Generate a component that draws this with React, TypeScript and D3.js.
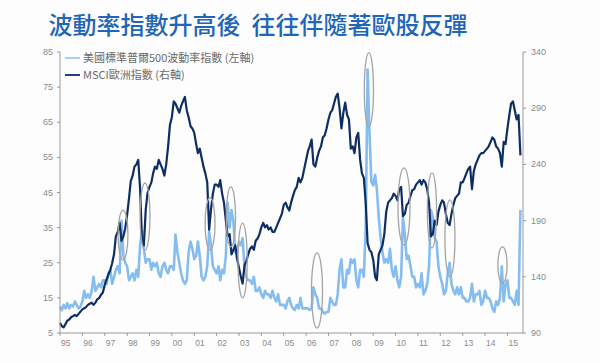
import React from 'react';
import * as d3 from 'd3';

const TITLE = '波動率指數升高後  往往伴隨著歐股反彈';
const LEGEND = ['美國標準普爾500波動率指數 (左軸)', 'MSCI歐洲指數 (右軸)'];

// monthly, Jan 1995 .. Aug 2015
const vix = [
  12.5, 11.5, 13, 12, 13.5, 12, 13, 12.5, 14, 13, 12, 12.5,
  14, 17, 15, 16, 15, 17, 21, 17, 18, 19, 18, 20,
  20, 19, 22, 23, 19, 21, 23, 24, 22, 37, 27, 25,
  24, 20, 21, 22, 20, 23, 21, 30, 34, 29, 25, 26,
  26, 23, 25, 24, 25, 22, 21, 24, 25, 23, 22, 24,
  24, 23, 33, 28, 25, 22, 20, 19, 20, 28, 31, 29,
  26, 27, 31, 27, 21, 20, 21, 24, 34, 30, 24, 23,
  22, 24, 20, 23, 22, 27, 42, 35, 40, 37, 28, 28,
  31, 30, 32, 24, 21, 20, 20, 19, 21, 17, 17, 18,
  16, 15, 17, 16, 16, 15, 17, 15, 14, 16, 13, 13,
  13, 12, 14, 15, 13, 12, 11.5, 13, 12, 15, 12, 12,
  12, 12, 11.5, 12, 18, 16, 15, 12, 12, 11, 10.5, 11,
  11, 15, 14, 13, 13, 16, 23, 26, 18, 18, 23, 22,
  26, 25, 26, 20, 18, 23, 23, 21, 36, 80, 62, 48,
  47, 50, 46, 38, 32, 28, 25, 26, 25, 29, 23, 21,
  24, 20, 18, 21, 38, 33, 26, 27, 24, 21, 21, 18,
  19, 18, 22, 16, 17, 19, 24, 40, 38, 32, 31, 24,
  21, 19, 16, 17, 22, 25, 19, 17, 16, 18, 16, 18,
  15, 15, 14, 14, 15, 19, 14, 16, 16, 17, 13, 14,
  17, 15, 15, 14, 12, 11, 14, 13, 15, 24, 14, 19,
  20, 15, 15, 14, 13, 17, 13, 40,
];

const msci = [
  99, 96, 95, 98, 101, 102, 104, 105, 106, 105, 107, 109,
  111, 112, 113, 115, 116, 117, 115, 117, 120, 121, 124, 126,
  133, 138, 142, 146, 152, 160, 176, 180, 188, 172, 176, 183,
  195, 210, 225, 230, 238, 240, 244, 218, 172, 168, 200, 215,
  220, 224, 232, 238, 236, 244, 240, 236, 230, 240, 256, 275,
  282, 296, 294, 290, 286, 292, 296, 300, 288, 282, 274, 272,
  268, 258, 250, 254, 246, 238, 232, 224, 182, 200, 214, 222,
  222, 220, 226, 214, 206, 190, 176, 178, 160, 164, 168, 156,
  148, 140, 134, 150, 154, 160, 165, 167, 164, 172, 174, 178,
  184, 188, 184, 186, 182, 184, 180, 180, 184, 188, 192, 196,
  204, 206, 202, 199, 206, 212, 217, 220, 228, 224, 228, 236,
  244, 252, 256, 262, 240, 238, 246, 252, 256, 264, 266, 272,
  280, 286, 288, 294, 300, 303, 290, 272, 286, 295, 284, 280,
  254, 256, 250, 264, 268, 244, 232, 228, 205, 170, 164, 162,
  155, 140, 137, 160, 164, 168, 178, 198, 206, 208, 210, 214,
  212, 208, 218, 220, 194, 196, 204, 206, 212, 217, 218, 222,
  224, 226, 222, 226, 224, 218, 206, 176, 178, 190, 186, 198,
  204, 208, 206, 196, 188, 186, 196, 204, 210, 212, 214, 224,
  224, 228, 232, 236, 238, 218, 234, 240, 244, 248, 250, 250,
  252, 254, 256, 260, 264, 262, 256, 254, 250, 238, 260, 258,
  272, 284, 294, 296, 288, 280, 284, 248,
];

const leftTicks = [5, 15, 25, 35, 45, 55, 65, 75, 85];
const rightTicks = [90, 140, 190, 240, 290, 340];

// grey ellipses: centre date, range on left axis, half width in days
const circles = [
  { date: '1997-10-26', lo: 25.8, hi: 40, days: 80 },
  { date: '1998-10-20', lo: 28.6, hi: 47.7, days: 80 },
  { date: '2001-09-16', lo: 28.6, hi: 43.5, days: 80 },
  { date: '2002-08-22', lo: 29.5, hi: 46.6, days: 75 },
  { date: '2003-03-01', lo: 15, hi: 36.3, days: 75 },
  { date: '2006-06-28', lo: 6.4, hi: 27.8, days: 90 },
  { date: '2008-10-22', lo: 63.7, hi: 84.8, days: 75 },
  { date: '2010-05-18', lo: 30, hi: 52, days: 98 },
  { date: '2011-08-18', lo: 29.2, hi: 50.6, days: 75 },
  { date: '2012-06-06', lo: 21, hi: 42.9, days: 82 },
  { date: '2014-10-12', lo: 19.2, hi: 29.5, days: 75 },
];

const W = 600;
const H = 363;
const left = 60;
const right = 523;
const top = 52;
const bottom = 333;

const axisColor = '#9a9a9a';
const labelColor = '#8a8a8a';

export default function App() {
  const months = vix.map((_, i) => new Date(1995, i, 1));

  const x = d3.scaleTime()
    .domain([new Date(1995, 0, 1), new Date(2015, 8, 12)])
    .range([left, right]);
  const yL = d3.scaleLinear().domain([5, 85]).range([bottom, top]);
  const yR = d3.scaleLinear().domain([90, 340]).range([bottom, top]);

  const vixPath = d3.line<number>()
    .x((_, i) => x(months[i]))
    .y(d => yL(d))(vix) || '';
  const msciPath = d3.line<number>()
    .x((_, i) => x(months[i]))
    .y(d => yR(d))(msci) || '';

  const years = d3.timeYear.range(new Date(1995, 0, 1), new Date(2015, 1, 1));
  const fmt = d3.timeFormat('%y');
  const font = '"Liberation Sans", Arial, sans-serif';
  const cjk = '"Noto Sans CJK TC", "Noto Sans", sans-serif';

  return (
    <svg width={W} height={H} style={{ position: 'absolute', left: 0, top: 0, display: 'block' }}>
      <rect width={W} height={H} fill="#fdfdfd" />

      <text x={258} y={34} textAnchor="middle" fontFamily={cjk} fontSize={24}
        fontWeight={500} fill="#1f66b8" style={{ whiteSpace: 'pre' }}>
        {TITLE}
      </text>

      {/* series */}
      <path d={vixPath} fill="none" stroke="#86bdf0" strokeWidth={2.6} strokeLinejoin="round" />
      <path d={msciPath} fill="none" stroke="#0d2d63" strokeWidth={2.2} strokeLinejoin="round" />

      {/* annotation ellipses */}
      {circles.map((c, i) => {
        const t = new Date(c.date);
        const cx = x(t);
        const rx = x(d3.timeDay.offset(t, c.days)) - cx;
        const y1 = yL(c.hi);
        const y2 = yL(c.lo);
        return (
          <ellipse key={i} cx={cx} cy={(y1 + y2) / 2} rx={rx} ry={(y2 - y1) / 2}
            fill="none" stroke="#a4a4a4" strokeWidth={1.3} />
        );
      })}

      {/* axes */}
      <line x1={left} x2={left} y1={top} y2={bottom} stroke={axisColor} />
      <line x1={right} x2={right} y1={top} y2={bottom} stroke={axisColor} />
      <line x1={left} x2={right} y1={bottom} y2={bottom} stroke={axisColor} />

      {leftTicks.map(t => (
        <g key={`l${t}`}>
          <line x1={left - 3} x2={left} y1={yL(t)} y2={yL(t)} stroke={axisColor} />
          <text x={left - 7} y={yL(t) + 3} textAnchor="end" fontFamily={font}
            fontSize={9} fill={labelColor}>{t}</text>
        </g>
      ))}

      {rightTicks.map(t => (
        <g key={`r${t}`}>
          <line x1={right} x2={right + 3} y1={yR(t)} y2={yR(t)} stroke={axisColor} />
          <text x={right + 8} y={yR(t) + 3} fontFamily={font}
            fontSize={9} fill={labelColor}>{t}</text>
        </g>
      ))}

      {years.map(d => (
        <g key={`x${d.getFullYear()}`}>
          <line x1={x(d)} x2={x(d)} y1={bottom} y2={bottom + 3} stroke={axisColor} />
          <text x={x(d) + 1} y={346} fontFamily={font} fontSize={8.5} fill={labelColor}>
            {fmt(d)}
          </text>
        </g>
      ))}

      {/* legend */}
      <line x1={65} x2={80} y1={58} y2={58} stroke="#a9d0f4" strokeWidth={2} />
      <text x={83} y={62} fontFamily={cjk} fontSize={11} fill="#6a6a6a">{LEGEND[0]}</text>
      <line x1={65} x2={80} y1={75} y2={75} stroke="#1f3f86" strokeWidth={2} />
      <text x={83} y={79} fontFamily={cjk} fontSize={11} fill="#6a6a6a">{LEGEND[1]}</text>
    </svg>
  );
}
